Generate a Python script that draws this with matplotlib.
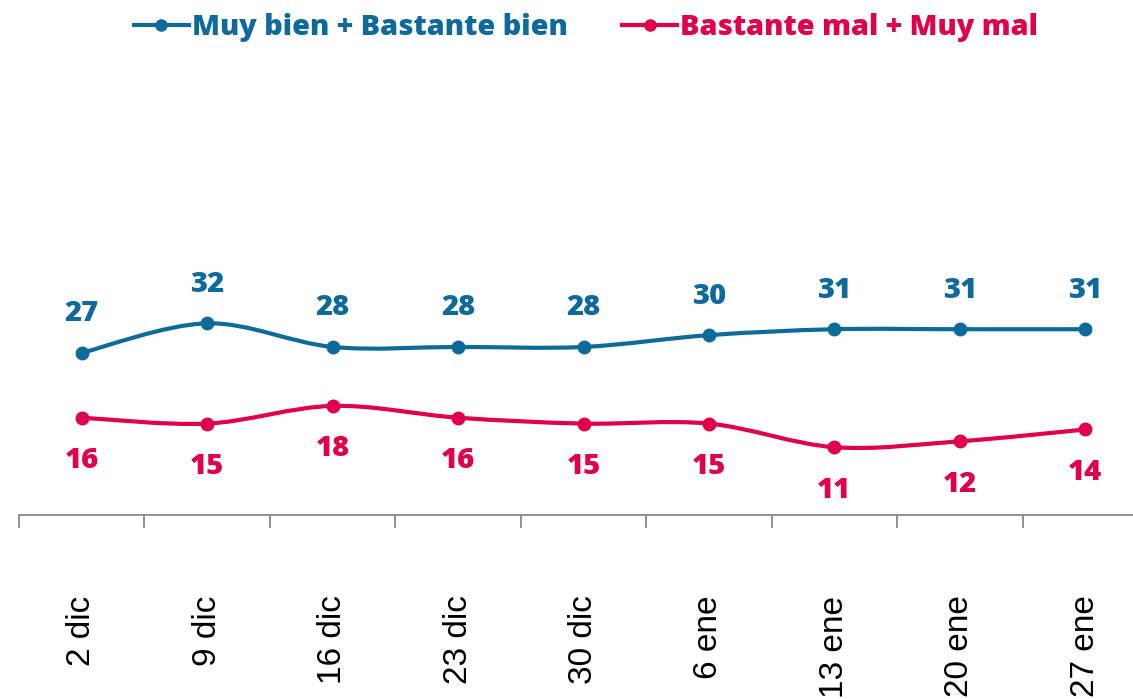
import numpy as np
import matplotlib.pyplot as plt
from matplotlib.path import Path
from matplotlib.patches import PathPatch
from matplotlib.lines import Line2D

# Data
fechas = ['2 dic', '9 dic', '16 dic', '23 dic', '30 dic', '6 ene', '13 ene', '20 ene', '27 ene']
bien = [27, 32, 28, 28, 28, 30, 31, 31, 31]
mal = [16, 15, 18, 16, 15, 15, 11, 12, 14]

azul = '#0f6a9c'
rojo = '#e0004d'
num_font = 'Open Sans'


def smooth_path(xs, ys):
    # Catmull-Rom style bezier segments through the points (like Excel smoothed lines)
    pts = np.column_stack([xs, ys]).astype(float)
    verts = [pts[0]]
    codes = [Path.MOVETO]
    n = len(pts)
    for i in range(n - 1):
        p0 = pts[max(i - 1, 0)]
        p1 = pts[i]
        p2 = pts[i + 1]
        p3 = pts[min(i + 2, n - 1)]
        c1 = p1 + (p2 - p0) / 6
        c2 = p2 - (p3 - p1) / 6
        verts += [c1, c2, p2]
        codes += [Path.CURVE4] * 3
    return Path(verts, codes)


fig = plt.figure(figsize=(11.33, 6.99), dpi=100)
ax = fig.add_axes([19 / 1133, (699 - 515) / 699, (1148 - 19) / 1133, 470 / 699])

x = np.arange(len(fechas))
for vals, color, off in [(bien, azul, 39), (mal, rojo, -43)]:
    ax.add_patch(PathPatch(smooth_path(x, vals), facecolor='none', edgecolor=color, lw=3, capstyle='round'))
    ax.plot(x, vals, 'o', color=color, markersize=9, zorder=3)
    for xi, v in zip(x, vals):
        ax.annotate(str(v), (xi, v), xytext=(0, off * 0.72), textcoords='offset points',
                    ha='center', va='center', color=color, fontsize=21, fontweight='heavy',
                    family=num_font)

ax.set_xlim(-0.5, len(fechas) - 0.5)
ax.set_ylim(-0.5, 79.2)

for s in ['top', 'left', 'right']:
    ax.spines[s].set_visible(False)
ax.spines['bottom'].set_color('#7f7f7f')
ax.spines['bottom'].set_linewidth(1.2)
ax.set_yticks([])

ax.set_xticks(x)
ax.set_xticklabels(fechas, rotation=90, fontsize=24, family='Liberation Sans')
ax.set_xticks(np.arange(len(fechas) + 1) - 0.5, minor=True)
ax.tick_params(axis='x', which='major', length=0, pad=58)
ax.tick_params(axis='x', which='minor', length=9, width=1.2, color='#7f7f7f')

handles = [Line2D([], [], color=azul, lw=3, marker='o', markersize=8),
           Line2D([], [], color=rojo, lw=3, marker='o', markersize=8)]
fig.legend(handles, ['Muy bien + Bastante bien', 'Bastante mal + Muy mal'],
           loc='center', bbox_to_anchor=(586 / 1133, 1 - 28 / 699), ncol=2, frameon=False,
           labelcolor='linecolor', handlelength=1.9, handletextpad=0.1, columnspacing=1.9,
           prop={'family': num_font, 'weight': 'heavy', 'size': 20.8})

fig.savefig('out.png', dpi=100)
